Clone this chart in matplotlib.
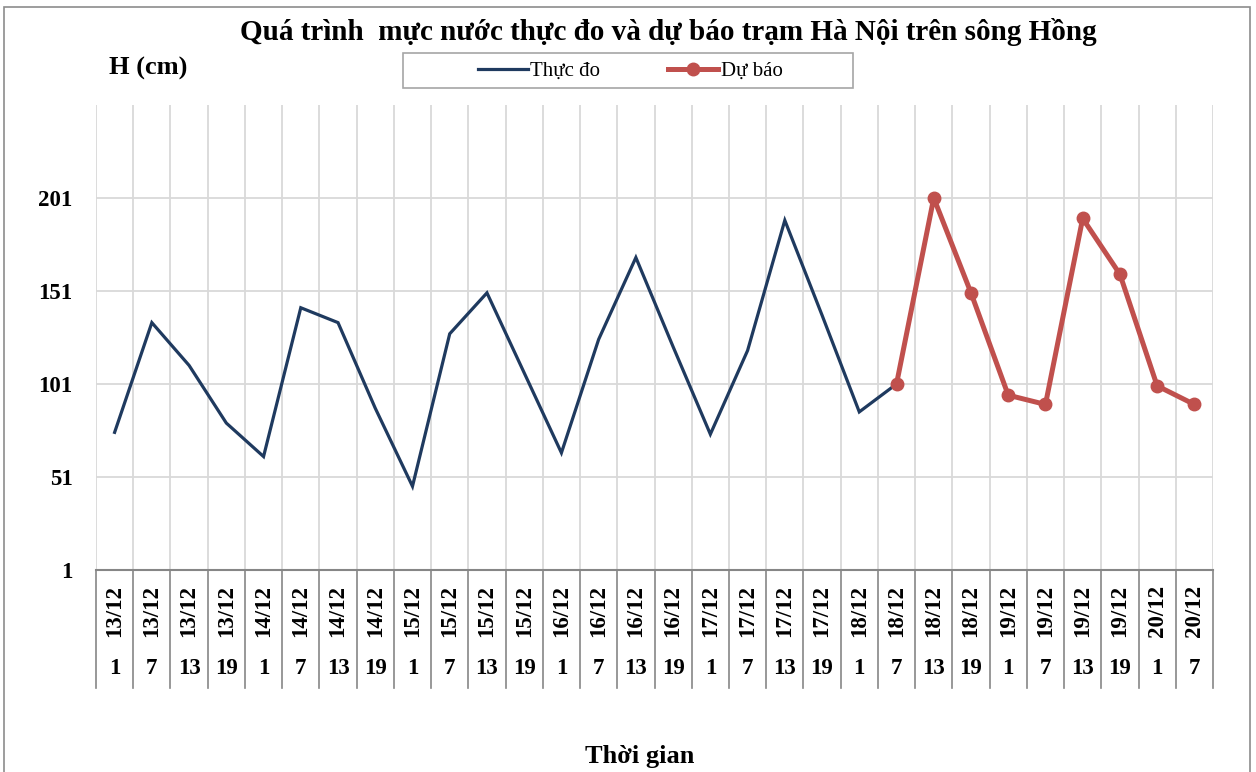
import matplotlib
matplotlib.use("Agg")
import matplotlib.pyplot as plt
from matplotlib.lines import Line2D
from matplotlib.patches import Rectangle
import numpy as np

dates = ["13/12"] * 4 + ["14/12"] * 4 + ["15/12"] * 4 + ["16/12"] * 4 + \
        ["17/12"] * 4 + ["18/12"] * 4 + ["19/12"] * 4 + ["20/12"] * 2
hours = ["1", "7", "13", "19"] * 7 + ["1", "7"]

observed = [75, 134, 111, 80, 62, 142, 134, 88, 46, 128, 150, 107, 64, 125,
            169, 121, 74, 119, 189, 138, 86, 101]
forecast = [101, 201, 150, 95, 90, 190, 160, 100, 90]
forecast_start = 21

yticks = [1, 51, 101, 151, 201]

W, H = 1256, 772
fig = plt.figure(figsize=(W / 100, H / 100), dpi=100)
serif = ["Liberation Serif", "DejaVu Serif"]
plt.rcParams["font.family"] = serif

ax = fig.add_axes([96 / W, 1 - 570 / H, (1213 - 96) / W, (570 - 105) / H])

n = len(dates)
x = np.arange(n)
ax.plot(x[:len(observed)], observed, color="#1f3a5f", lw=2.3, solid_joinstyle="miter",
        label="Thực đo", zorder=3)
xf = x[forecast_start:forecast_start + len(forecast)]
ax.plot(xf, forecast, color="#c0504d", lw=3.6, marker="o", ms=9,
        label="Dự báo", zorder=4)

ax.set_xlim(-0.5, n - 0.5)
ax.set_ylim(1, 251)
ax.set_yticks(yticks)
ax.set_yticklabels([str(v) for v in yticks], fontsize=16.5, fontweight="bold")
ax.tick_params(axis="y", length=0, pad=17)

ax.set_xticks(x)
ax.set_xticklabels(dates, rotation=90, fontsize=16.5, fontweight="bold", va="top")
ax.tick_params(axis="x", which="major", length=0, pad=10.5)
ax.set_xticks(np.arange(-0.5, n, 1), minor=True)
ax.tick_params(axis="x", which="minor", length=0)

ax.grid(False)
ax.yaxis.grid(True, color="#d9d9d9", lw=1.3)
ax.xaxis.grid(True, which="minor", color="#d9d9d9", lw=1.3)
ax.set_axisbelow(True)

for s in ["top", "right", "left"]:
    ax.spines[s].set_visible(False)
ax.spines["bottom"].set_color("#868686")
ax.spines["bottom"].set_linewidth(1.5)
ax.spines["bottom"].set_zorder(5)

trans = ax.get_xaxis_transform()
row_bottom = -(688 - 570) / (570 - 105)
for b in np.arange(-0.5, n, 1):
    ax.add_line(Line2D([b, b], [0, row_bottom], transform=trans, color="#868686",
                       lw=1.2, clip_on=False))
hour_y = -(668 - 570) / (570 - 105)
for xi, h in zip(x, hours):
    ax.text(xi, hour_y, h, transform=trans, ha="center", va="center",
            fontsize=16.5, fontweight="bold")

fig.text(668 / W, 1 - 32 / H, "Quá trình  mực nước thực đo và dự báo trạm Hà Nội trên sông Hồng",
         ha="center", va="center", fontsize=21, fontweight="bold")
fig.text(148 / W, 1 - 68 / H, "H (cm)", ha="center", va="center",
         fontsize=19, fontweight="bold")
fig.text(640 / W, 1 - 757 / H, "Thời gian", ha="center", va="center",
         fontsize=19, fontweight="bold")

# legend frame
fig.add_artist(Rectangle((403 / W, 1 - 88 / H), (853 - 403) / W, (88 - 53) / H,
                         transform=fig.transFigure, fill=False,
                         edgecolor="#a6a6a6", lw=1.2))
leg = fig.legend(loc="center", bbox_to_anchor=(630 / W, 1 - 71 / H), ncol=2,
                 frameon=False, fontsize=15, handlelength=2.4, handletextpad=0.1,
                 columnspacing=3.3, borderpad=0.2)

# outer border
fig.add_artist(Rectangle((4 / W, -0.05), (1250 - 4) / W, (1 - 7 / H) + 0.05,
                         transform=fig.transFigure, fill=False,
                         edgecolor="#8c8c8c", lw=1.2))

fig.savefig("out.png", dpi=100)
